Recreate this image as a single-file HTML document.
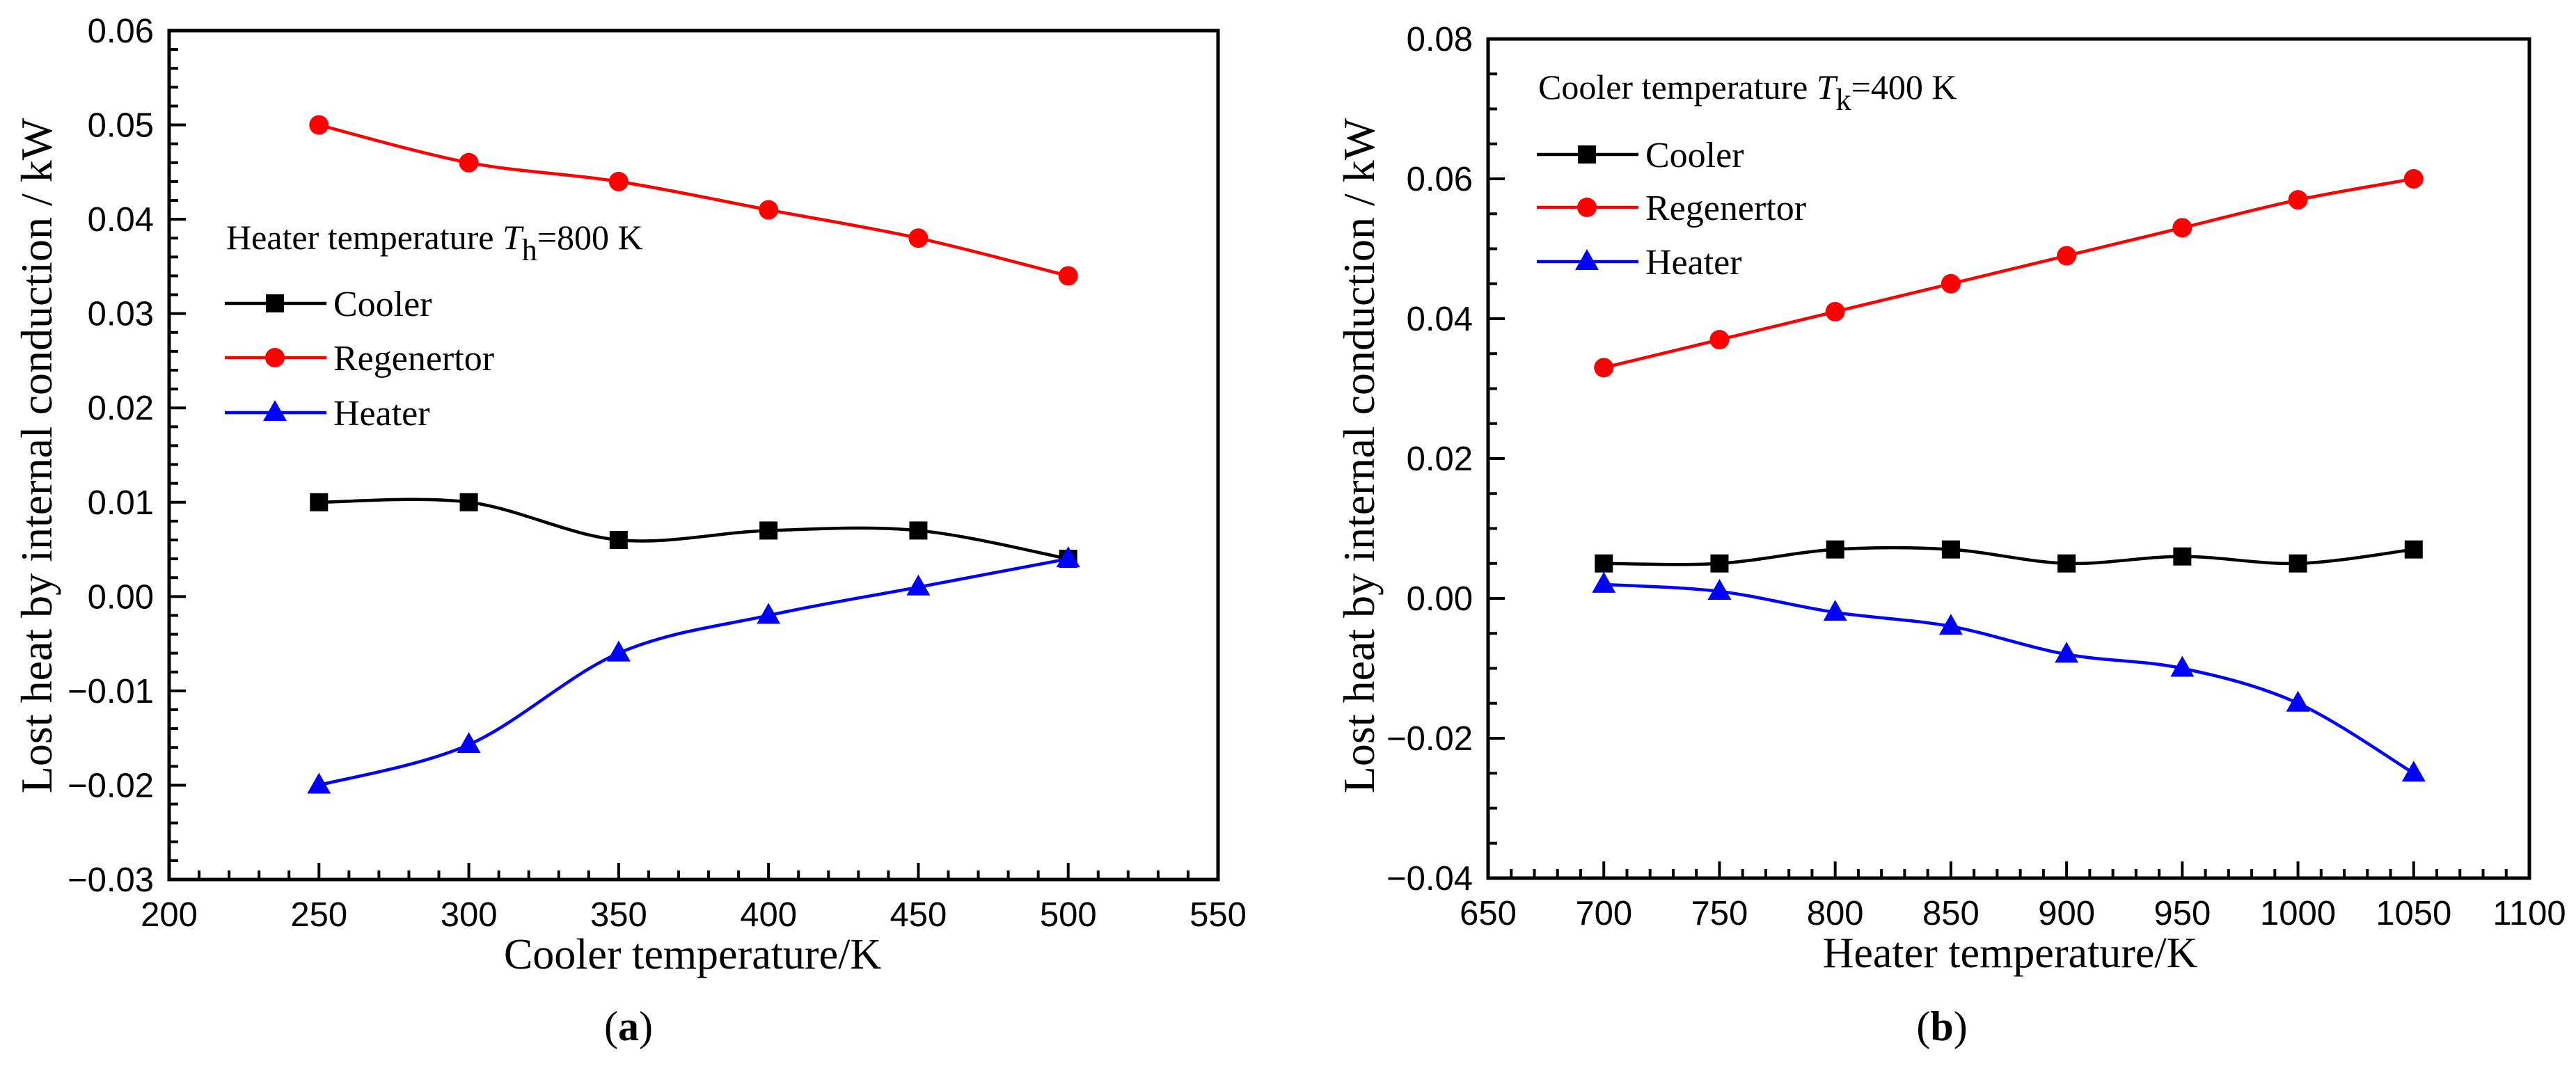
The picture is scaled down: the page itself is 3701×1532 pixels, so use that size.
<!DOCTYPE html>
<html><head><meta charset="utf-8">
<style>
body{margin:0;background:#fff;}
svg{display:block;}
.tick{font-family:"Liberation Sans",Arial,sans-serif;font-size:49px;fill:#000;}
.ser{font-family:"Liberation Serif","Times New Roman",serif;fill:#000;}
</style></head>
<body>
<svg id="fig" width="3701" height="1532" viewBox="0 0 3701 1532" xmlns="http://www.w3.org/2000/svg"></svg>
<script>
// Panel (a)
const xA = [250, 300, 350, 400, 450, 500];
const coolerA = [0.010, 0.010, 0.006, 0.007, 0.007, 0.004];
const regenA = [0.050, 0.046, 0.044, 0.041, 0.038, 0.034];
const heaterA = [-0.020, -0.0157, -0.006, -0.002, 0.001, 0.004];
const xTicksA = [200, 250, 300, 350, 400, 450, 500, 550];
const yTicksA = [-0.03, -0.02, -0.01, 0.00, 0.01, 0.02, 0.03, 0.04, 0.05, 0.06];
const yLabelsA = ["\u22120.03", "\u22120.02", "\u22120.01", "0.00", "0.01", "0.02", "0.03", "0.04", "0.05", "0.06"];
// Panel (b)
const xB = [700, 750, 800, 850, 900, 950, 1000, 1050];
const coolerB = [0.005, 0.005, 0.007, 0.007, 0.005, 0.006, 0.005, 0.007];
const regenB = [0.033, 0.037, 0.041, 0.045, 0.049, 0.053, 0.057, 0.060];
const heaterB = [0.002, 0.001, -0.002, -0.004, -0.008, -0.010, -0.015, -0.025];
const xTicksB = [650, 700, 750, 800, 850, 900, 950, 1000, 1050, 1100];
const yTicksB = [-0.04, -0.02, 0.00, 0.02, 0.04, 0.06, 0.08];
const yLabelsB = ["\u22120.04", "\u22120.02", "0.00", "0.02", "0.04", "0.06", "0.08"];

const NS = "http://www.w3.org/2000/svg";
const svg = document.getElementById('fig');
function mk(tag, attrs, parent) {
  const e = document.createElementNS(NS, tag);
  for (const k in attrs) e.setAttribute(k, attrs[k]);
  (parent || svg).appendChild(e);
  return e;
}
function spline(pts) {
  let d = `M${pts[0][0]},${pts[0][1]}`;
  for (let i = 0; i < pts.length - 1; i++) {
    const p0 = pts[Math.max(0, i - 1)], p1 = pts[i], p2 = pts[i + 1], p3 = pts[Math.min(pts.length - 1, i + 2)];
    const c1x = p1[0] + (p2[0] - p0[0]) / 6, c1y = p1[1] + (p2[1] - p0[1]) / 6;
    const c2x = p2[0] - (p3[0] - p1[0]) / 6, c2y = p2[1] - (p3[1] - p1[1]) / 6;
    d += ` C${c1x},${c1y} ${c2x},${c2y} ${p2[0]},${p2[1]}`;
  }
  return d;
}
function marker(g, kind, x, y, color) {
  let e;
  if (kind === 'sq') e = mk('rect', {x: x - 13, y: y - 13, width: 26, height: 26, fill: color}, g);
  else if (kind === 'ci') e = mk('circle', {cx: x, cy: y, r: 14, fill: color}, g);
  else e = mk('polygon', {points: `${x},${y - 18} ${x - 17},${y + 12} ${x + 17},${y + 12}`, fill: color}, g);
  return e;
}

function panel(cfg) {
  const g = mk('g', {});
  
  
  const X = v => cfg.L + (v - cfg.xmin) / (cfg.xmax - cfg.xmin) * (cfg.R - cfg.L);
  const Y = v => cfg.B - (v - cfg.ymin) / (cfg.ymax - cfg.ymin) * (cfg.B - cfg.T);
  const tg = mk('g', {stroke: '#000', 'stroke-width': 4}, g);
  
  
  for (let v = cfg.xmin; v <= cfg.xmax + 1e-9; v += cfg.xminor) {
    const isMaj = Math.abs(((v - cfg.xmin) / cfg.xmajor) - Math.round((v - cfg.xmin) / cfg.xmajor)) < 1e-6;
    const len = isMaj ? 24 : 13;
    mk('line', {x1: X(v), y1: cfg.B, x2: X(v), y2: cfg.B - len}, tg);
  }
  const ny = Math.round((cfg.ymax - cfg.ymin) / cfg.yminor);
  const per = Math.round(cfg.ymajor / cfg.yminor);
  for (let i = 0; i <= ny; i++) {
    const v = cfg.ymin + i * cfg.yminor;
    const len = (i % per === 0) ? 24 : 13;
    mk('line', {x1: cfg.L, y1: Y(v), x2: cfg.L + len, y2: Y(v)}, tg);
  }
  const fr = mk('rect', {x: cfg.L, y: cfg.T, width: cfg.R - cfg.L, height: cfg.B - cfg.T, fill: 'none', stroke: '#000', 'stroke-width': 5}, g);
  
  
  cfg.xt.forEach(v => {
    const t = mk('text', {x: X(v), y: cfg.B + 67, 'text-anchor': 'middle', class: 'tick'}, g);
    t.textContent = v;
    
    
  });
  cfg.yt.forEach((v, i) => {
    const t = mk('text', {x: cfg.L - 22, y: Y(v) + 17, 'text-anchor': 'end', class: 'tick'}, g);
    t.textContent = cfg.yl[i];
    
    
  });
  const series = [
    {n: 'cooler', c: '#000', k: 'sq', d: cfg.cool},
    {n: 'regenerator', c: '#f00', k: 'ci', d: cfg.reg},
    {n: 'heater', c: '#00f', k: 'tr', d: cfg.heat}
  ];
  series.forEach(s => {
    const sg = mk('g', {}, g);
    
    
    const pts = cfg.xs.map((x, i) => [X(x), Y(s.d[i])]);
    const p = mk('path', {d: spline(pts), fill: 'none', stroke: s.c, 'stroke-width': 4.5}, sg);
    
    
    pts.forEach(pt => {
      const m = marker(sg, s.k, pt[0], pt[1], s.c);
      
      
    });
  });
  const an = mk('text', {x: cfg.annX, y: cfg.annY, class: 'ser', 'font-size': 50}, g);
  an.innerHTML = cfg.annText + ' <tspan font-style="italic">T</tspan><tspan dy="16" font-size="44">' + cfg.sub + '</tspan><tspan dy="-16">=' + cfg.annVal + ' K</tspan>';
  
  
  const lg = mk('g', {}, g);
  
  
  const names = ['Cooler', 'Regenertor', 'Heater'];
  series.forEach((s, i) => {
    const y = cfg.legY[i];
    const eg = mk('g', {}, lg);
    
    
    mk('line', {x1: cfg.legX, y1: y, x2: cfg.legX + 146, y2: y, stroke: s.c, 'stroke-width': 4.5}, eg);
    marker(eg, s.k, cfg.legX + 72, y, s.c);
    const t = mk('text', {x: cfg.legX + 156, y: y + 18, class: 'ser', 'font-size': 52}, eg);
    t.textContent = names[i];
  });
  const xtl = mk('text', {x: cfg.xTitleX, y: cfg.B + 128, 'text-anchor': 'middle', class: 'ser', 'font-size': 62}, g);
  xtl.textContent = cfg.xTitle;
  
  
  const ytl = mk('text', {x: 0, y: 0, 'text-anchor': 'middle', class: 'ser', 'font-size': 64, transform: `translate(${cfg.yTitleX},655) rotate(-90)`}, g);
  ytl.textContent = 'Lost heat by internal conduction / kW';
  
  
  const cap = mk('text', {x: cfg.capX, y: 1495, 'text-anchor': 'middle', class: 'ser', 'font-size': 60}, g);
  cap.innerHTML = '(<tspan font-weight="bold">' + cfg.cap + '</tspan>)';
  
  
}

panel({name: 'panel-a', L: 243, R: 1750, T: 44, B: 1264, xmin: 200, xmax: 550, ymin: -0.03, ymax: 0.06,
  xmajor: 50, xminor: 10, ymajor: 0.01, yminor: 0.002,
  xt: xTicksA, yt: yTicksA, yl: yLabelsA, xs: xA, cool: coolerA, reg: regenA, heat: heaterA,
  annX: 325, annY: 358, annText: 'Heater temperature', sub: 'h', annVal: '800',
  legX: 323, legY: [436, 514, 593], xTitle: 'Cooler temperature/K', xTitleX: 995, yTitleX: 74, capX: 903, cap: 'a'});
panel({name: 'panel-b', L: 2138, R: 3634, T: 56, B: 1262, xmin: 650, xmax: 1100, ymin: -0.04, ymax: 0.08,
  xmajor: 50, xminor: 10, ymajor: 0.02, yminor: 0.005,
  xt: xTicksB, yt: yTicksB, yl: yLabelsB, xs: xB, cool: coolerB, reg: regenB, heat: heaterB,
  annX: 2210, annY: 142, annText: 'Cooler temperature', sub: 'k', annVal: '400',
  legX: 2208, legY: [222, 298, 376], xTitle: 'Heater temperature/K', xTitleX: 2888, yTitleX: 1974, capX: 2790, cap: 'b'});
</script>
</body></html>
